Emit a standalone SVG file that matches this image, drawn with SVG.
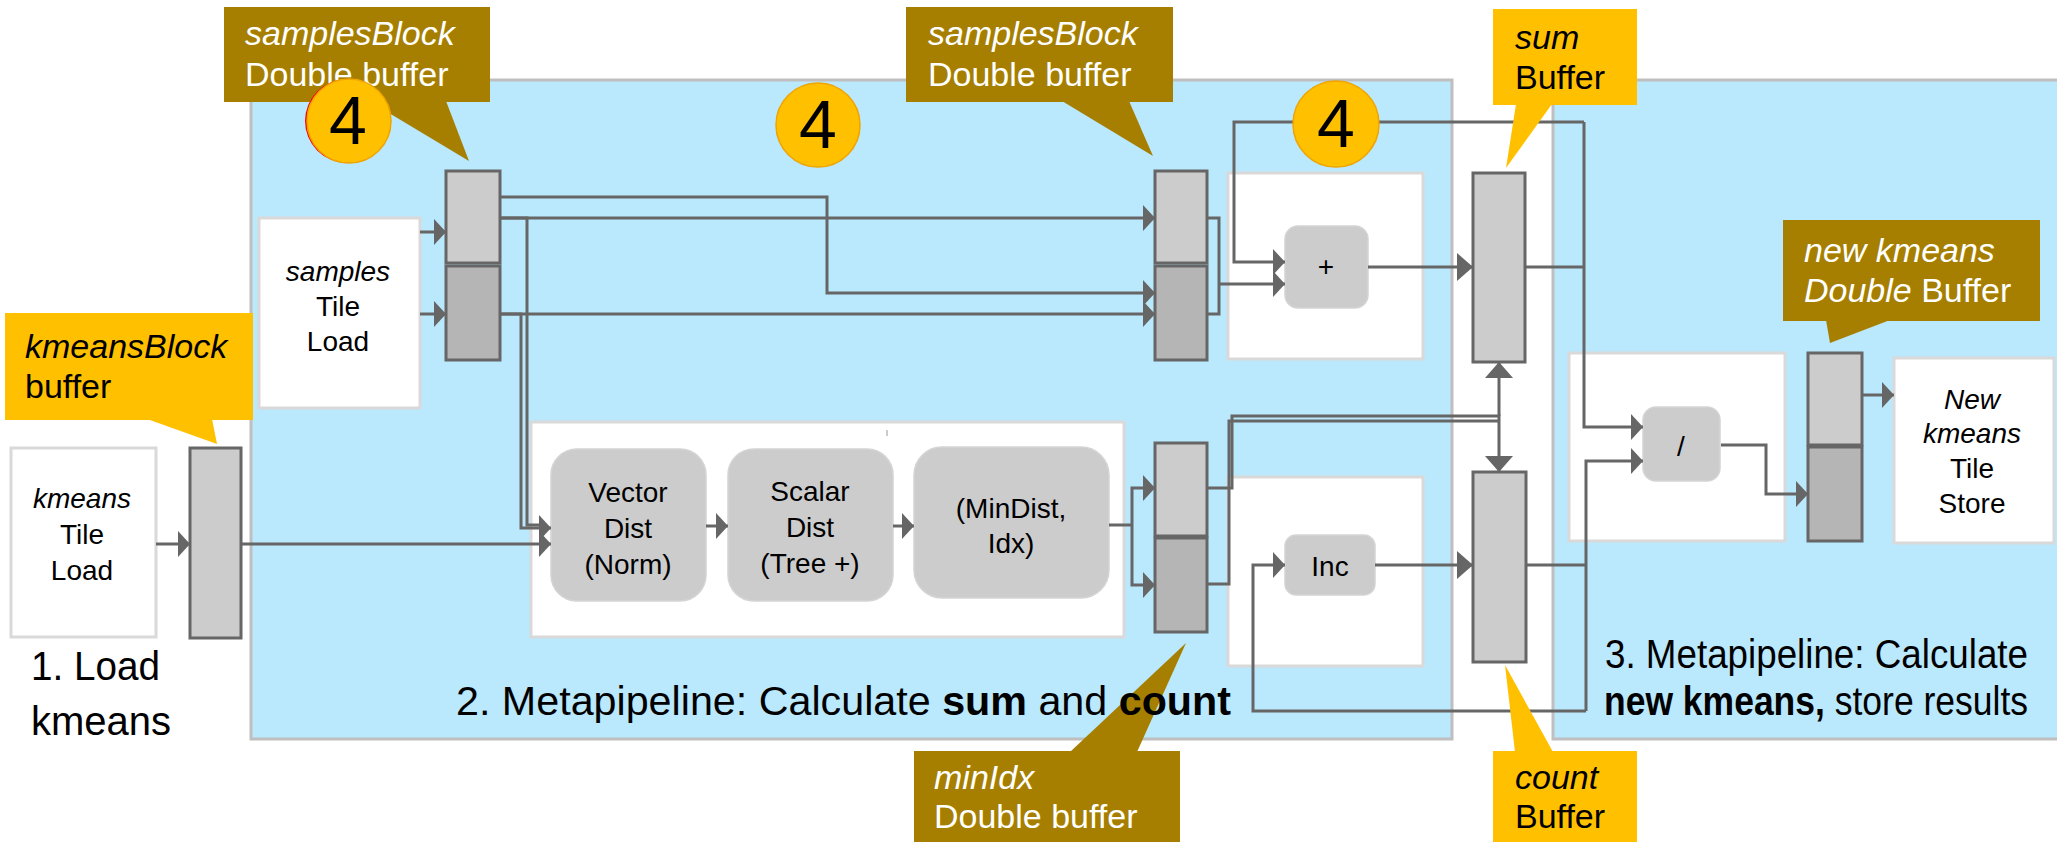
<svg xmlns="http://www.w3.org/2000/svg" width="2057" height="842" viewBox="0 0 2057 842">
  <style>
    text { font-family: "Liberation Sans", Arial, sans-serif; fill: #000; }
    .panel { fill: #BAE8FC; stroke: #BFBFBF; stroke-width: 3; }
    .stage { fill: #FFFFFF; stroke: #D9D9D9; stroke-width: 3; }
    .bufA { fill: #CCCCCC; stroke: #666666; stroke-width: 3; }
    .bufB { fill: #B5B5B5; stroke: #666666; stroke-width: 3; }
    .proc { fill: #CCCCCC; stroke: #D4D4D4; stroke-width: 1.5; }
    .wire { fill: none; stroke: #666666; stroke-width: 3; }
    .arr { marker-end: url(#ah); }
    .arrL { marker-end: url(#ahL); }
    .gold { fill: #A67F00; }
    .amber { fill: #FFC000; }
    .badge { fill: #FFC000; stroke: #F0A400; stroke-width: 1.5; }
    .node { font-size: 28px; text-anchor: middle; }
    .call { font-size: 34px; }
    .callW { fill: #FFFFFF; }
    .num { font-size: 68px; text-anchor: middle; }
    .big { font-size: 40px; }
  </style>
  <defs>
    <marker id="ah" viewBox="0 0 12 26" refX="12" refY="13" markerWidth="12" markerHeight="26" markerUnits="userSpaceOnUse" orient="auto">
      <path d="M0,0 L12,13 L0,26 z" fill="#666666"/>
    </marker>
    <marker id="ahL" viewBox="0 0 16 28" refX="16" refY="14" markerWidth="16" markerHeight="28" markerUnits="userSpaceOnUse" orient="auto">
      <path d="M0,0 L16,14 L0,28 z" fill="#666666"/>
    </marker>
  </defs>

  <rect width="2057" height="842" fill="#FFFFFF"/>

  <!-- metapipeline panels -->
  <g id="panel-sum-count">
    <rect class="panel" x="251" y="80" width="1201" height="659"/>
  </g>
  <g id="panel-new-kmeans">
    <rect class="panel" x="1553" y="80" width="520" height="659"/>
  </g>

  <!-- inner stage containers -->
  <g id="stage-dist">
    <rect class="stage" x="531" y="422" width="593" height="215"/>
    <line x1="887" y1="430" x2="887" y2="436" stroke="#999999" stroke-width="1"/>
  </g>
  <g id="stage-add">
    <rect class="stage" x="1228" y="173" width="195" height="186"/>
  </g>
  <g id="stage-inc">
    <rect class="stage" x="1228" y="477" width="195" height="189"/>
  </g>
  <g id="stage-div">
    <rect class="stage" x="1569" y="353" width="216" height="188"/>
  </g>

  <!-- tile load / store nodes -->
  <g id="kmeans-load">
    <rect class="stage" x="11" y="448" width="145" height="189"/>
    <text class="node" x="82" y="508"><tspan font-style="italic">kmeans</tspan><tspan x="82" dy="36">Tile</tspan><tspan x="82" dy="36">Load</tspan></text>
  </g>
  <g id="samples-load">
    <rect class="stage" x="259" y="218" width="161" height="190"/>
    <text class="node" x="338" y="281"><tspan font-style="italic">samples</tspan><tspan x="338" dy="35">Tile</tspan><tspan x="338" dy="35">Load</tspan></text>
  </g>
  <g id="kmeans-store">
    <rect class="stage" x="1894" y="358" width="160" height="185"/>
    <text class="node" x="1972" y="409"><tspan font-style="italic">New</tspan><tspan x="1972" dy="34" font-style="italic">kmeans</tspan><tspan x="1972" dy="35">Tile</tspan><tspan x="1972" dy="35">Store</tspan></text>
  </g>

  <!-- buffers -->
  <g id="kmeansBlock-buffer">
    <rect class="bufA" x="190" y="448" width="51" height="190"/>
  </g>
  <g id="samplesBlock-buffer-1">
    <rect class="bufA" x="446" y="171" width="54" height="92"/>
    <rect class="bufB" x="446" y="266" width="54" height="94"/>
  </g>
  <g id="samplesBlock-buffer-2">
    <rect class="bufA" x="1155" y="171" width="52" height="92"/>
    <rect class="bufB" x="1155" y="266" width="52" height="94"/>
  </g>
  <g id="minIdx-buffer">
    <rect class="bufA" x="1155" y="443" width="52" height="93"/>
    <rect class="bufB" x="1155" y="538" width="52" height="94"/>
  </g>
  <g id="sum-buffer">
    <rect class="bufA" x="1473" y="173" width="52" height="189"/>
  </g>
  <g id="count-buffer">
    <rect class="bufA" x="1473" y="472" width="53" height="190"/>
  </g>
  <g id="new-kmeans-buffer">
    <rect class="bufA" x="1808" y="353" width="54" height="92"/>
    <rect class="bufB" x="1808" y="447" width="54" height="94"/>
  </g>

  <!-- compute units -->
  <g id="vector-dist">
    <rect class="proc" x="551" y="449" width="155" height="152" rx="26"/>
    <text class="node" x="628" y="502">Vector<tspan x="628" dy="36">Dist</tspan><tspan x="628" dy="36">(Norm)</tspan></text>
  </g>
  <g id="scalar-dist">
    <rect class="proc" x="728" y="449" width="165" height="152" rx="26"/>
    <text class="node" x="810" y="501">Scalar<tspan x="810" dy="36">Dist</tspan><tspan x="810" dy="36">(Tree +)</tspan></text>
  </g>
  <g id="min-dist-idx">
    <rect class="proc" x="914" y="447" width="195" height="151" rx="28"/>
    <text class="node" x="1011" y="518">(MinDist,<tspan x="1011" dy="35">Idx)</tspan></text>
  </g>
  <g id="add">
    <rect class="proc" x="1285" y="226" width="83" height="82" rx="13"/>
    <text class="node" x="1326" y="276">+</text>
  </g>
  <g id="inc">
    <rect class="proc" x="1285" y="535" width="90" height="60" rx="11"/>
    <text class="node" x="1330" y="576">Inc</text>
  </g>
  <g id="div">
    <rect class="proc" x="1643" y="407" width="77" height="74" rx="13"/>
    <text class="node" x="1681" y="456">/</text>
  </g>

  <!-- connectors -->
  <g id="connectors">
    <path class="wire arr" d="M156,544 H190"/>
    <path class="wire arr" d="M241,544 H551"/>
    <path class="wire arr" d="M420,232 H446"/>
    <path class="wire arr" d="M420,314 H446"/>
    <path class="wire" d="M500,218 H527 V525 H546"/>
    <path class="wire arr" d="M500,314 H521 V528 H551"/>
    <path class="wire arr" d="M500,197 H827 V293 H1155"/>
    <path class="wire arr" d="M500,218 H1155"/>
    <path class="wire arr" d="M500,314 H1155"/>
    <path class="wire arr" d="M706,526 H728"/>
    <path class="wire arr" d="M893,526 H914"/>
    <path class="wire" d="M1109,525 H1132"/>
    <path class="wire arr" d="M1132,525 V488 H1155"/>
    <path class="wire arr" d="M1132,525 V585 H1155"/>
    <path class="wire" d="M1207,218 H1219 V314 H1207"/>
    <path class="wire arr" d="M1219,284 H1285"/>
    <path class="wire arr" d="M1584,122 H1234 V262 H1285"/>
    <path class="wire" d="M1525,267 H1584"/>
    <path class="wire arr" d="M1584,122 V427 H1643"/>
    <path class="wire arrL" d="M1368,267 H1473"/>
    <path class="wire arrL" d="M1207,488 H1232 V416 H1499 V472"/>
    <path class="wire arrL" d="M1499,416 V362"/>
    <path class="wire" d="M1207,584 H1229 V421 H1499"/>
    <path class="wire arrL" d="M1375,565 H1473"/>
    <path class="wire" d="M1526,565 H1586"/>
    <path class="wire arr" d="M1586,711 V461 H1643"/>
    <path class="wire arr" d="M1586,711 H1253 V565 H1285"/>
    <path class="wire arr" d="M1721,445 H1766 V494 H1808"/>
    <path class="wire arr" d="M1862,395 H1894"/>
  </g>

  <!-- buffer callouts -->
  <g id="callout-kmeansBlock">
    <rect class="amber" x="5" y="313" width="248" height="107"/>
    <polygon class="amber" points="147,419 212,419 217,444"/>
    <text class="call" x="25" y="358"><tspan font-style="italic">kmeansBlock</tspan><tspan x="25" dy="40">buffer</tspan></text>
  </g>
  <g id="callout-samplesBlock-1">
    <rect class="gold" x="224" y="7" width="266" height="95"/>
    <polygon class="gold" points="369,101 446,101 469,161"/>
    <text class="call callW" x="245" y="45"><tspan font-style="italic" class="callW">samplesBlock</tspan><tspan x="245" dy="41" class="callW">Double buffer</tspan></text>
  </g>
  <g id="callout-samplesBlock-2">
    <rect class="gold" x="906" y="7" width="267" height="95"/>
    <polygon class="gold" points="1062,101 1129,101 1153,156"/>
    <text class="call callW" x="928" y="45"><tspan font-style="italic" class="callW">samplesBlock</tspan><tspan x="928" dy="41" class="callW">Double buffer</tspan></text>
  </g>
  <g id="callout-sum">
    <rect class="amber" x="1493" y="9" width="144" height="96"/>
    <polygon class="amber" points="1516,104 1552,104 1506,168"/>
    <text class="call" x="1515" y="49"><tspan font-style="italic">sum</tspan><tspan x="1515" dy="40">Buffer</tspan></text>
  </g>
  <g id="callout-new-kmeans">
    <rect class="gold" x="1783" y="220" width="257" height="101"/>
    <polygon class="gold" points="1826,320 1890,320 1830,343"/>
    <text class="call callW" x="1804" y="262"><tspan font-style="italic" class="callW">new kmeans</tspan><tspan x="1804" dy="40" font-style="italic" class="callW">Double</tspan><tspan class="callW"> Buffer</tspan></text>
  </g>
  <g id="callout-minIdx">
    <rect class="gold" x="914" y="751" width="266" height="91"/>
    <polygon class="gold" points="1070,752 1137,752 1186,643"/>
    <text class="call callW" x="934" y="789"><tspan font-style="italic" class="callW">minIdx</tspan><tspan x="934" dy="39" class="callW">Double buffer</tspan></text>
  </g>
  <g id="callout-count">
    <rect class="amber" x="1493" y="751" width="144" height="91"/>
    <polygon class="amber" points="1515,752 1553,752 1505,665"/>
    <text class="call" x="1515" y="789"><tspan font-style="italic">count</tspan><tspan x="1515" dy="39">Buffer</tspan></text>
  </g>

  <!-- stage labels -->
  <g id="label-load">
    <text class="big" x="31" y="680" textLength="129" lengthAdjust="spacingAndGlyphs">1. Load</text>
    <text class="big" x="31" y="735" textLength="140" lengthAdjust="spacingAndGlyphs">kmeans</text>
  </g>
  <g id="label-sum-count">
    <text class="big" x="456" y="715" textLength="775" lengthAdjust="spacingAndGlyphs">2. Metapipeline: Calculate <tspan font-weight="bold">sum</tspan> and <tspan font-weight="bold">count</tspan></text>
  </g>
  <g id="label-new-kmeans">
    <text class="big" x="1605" y="668" textLength="423" lengthAdjust="spacingAndGlyphs">3. Metapipeline:  Calculate</text>
    <text class="big" x="1604" y="715" textLength="424" lengthAdjust="spacingAndGlyphs"><tspan font-weight="bold">new kmeans,</tspan> store results</text>
  </g>

  <!-- parallelism badges -->
  <g id="badge-1">
    <circle cx="347" cy="121" r="42" fill="#FF0000"/>
    <circle class="badge" cx="349" cy="121" r="42"/>
    <text class="num" x="348" y="144">4</text>
  </g>
  <g id="badge-2">
    <circle class="badge" cx="818" cy="125" r="42"/>
    <text class="num" x="818" y="148">4</text>
  </g>
  <g id="badge-3">
    <circle class="badge" cx="1336" cy="124" r="43"/>
    <text class="num" x="1336" y="147">4</text>
  </g>
</svg>
